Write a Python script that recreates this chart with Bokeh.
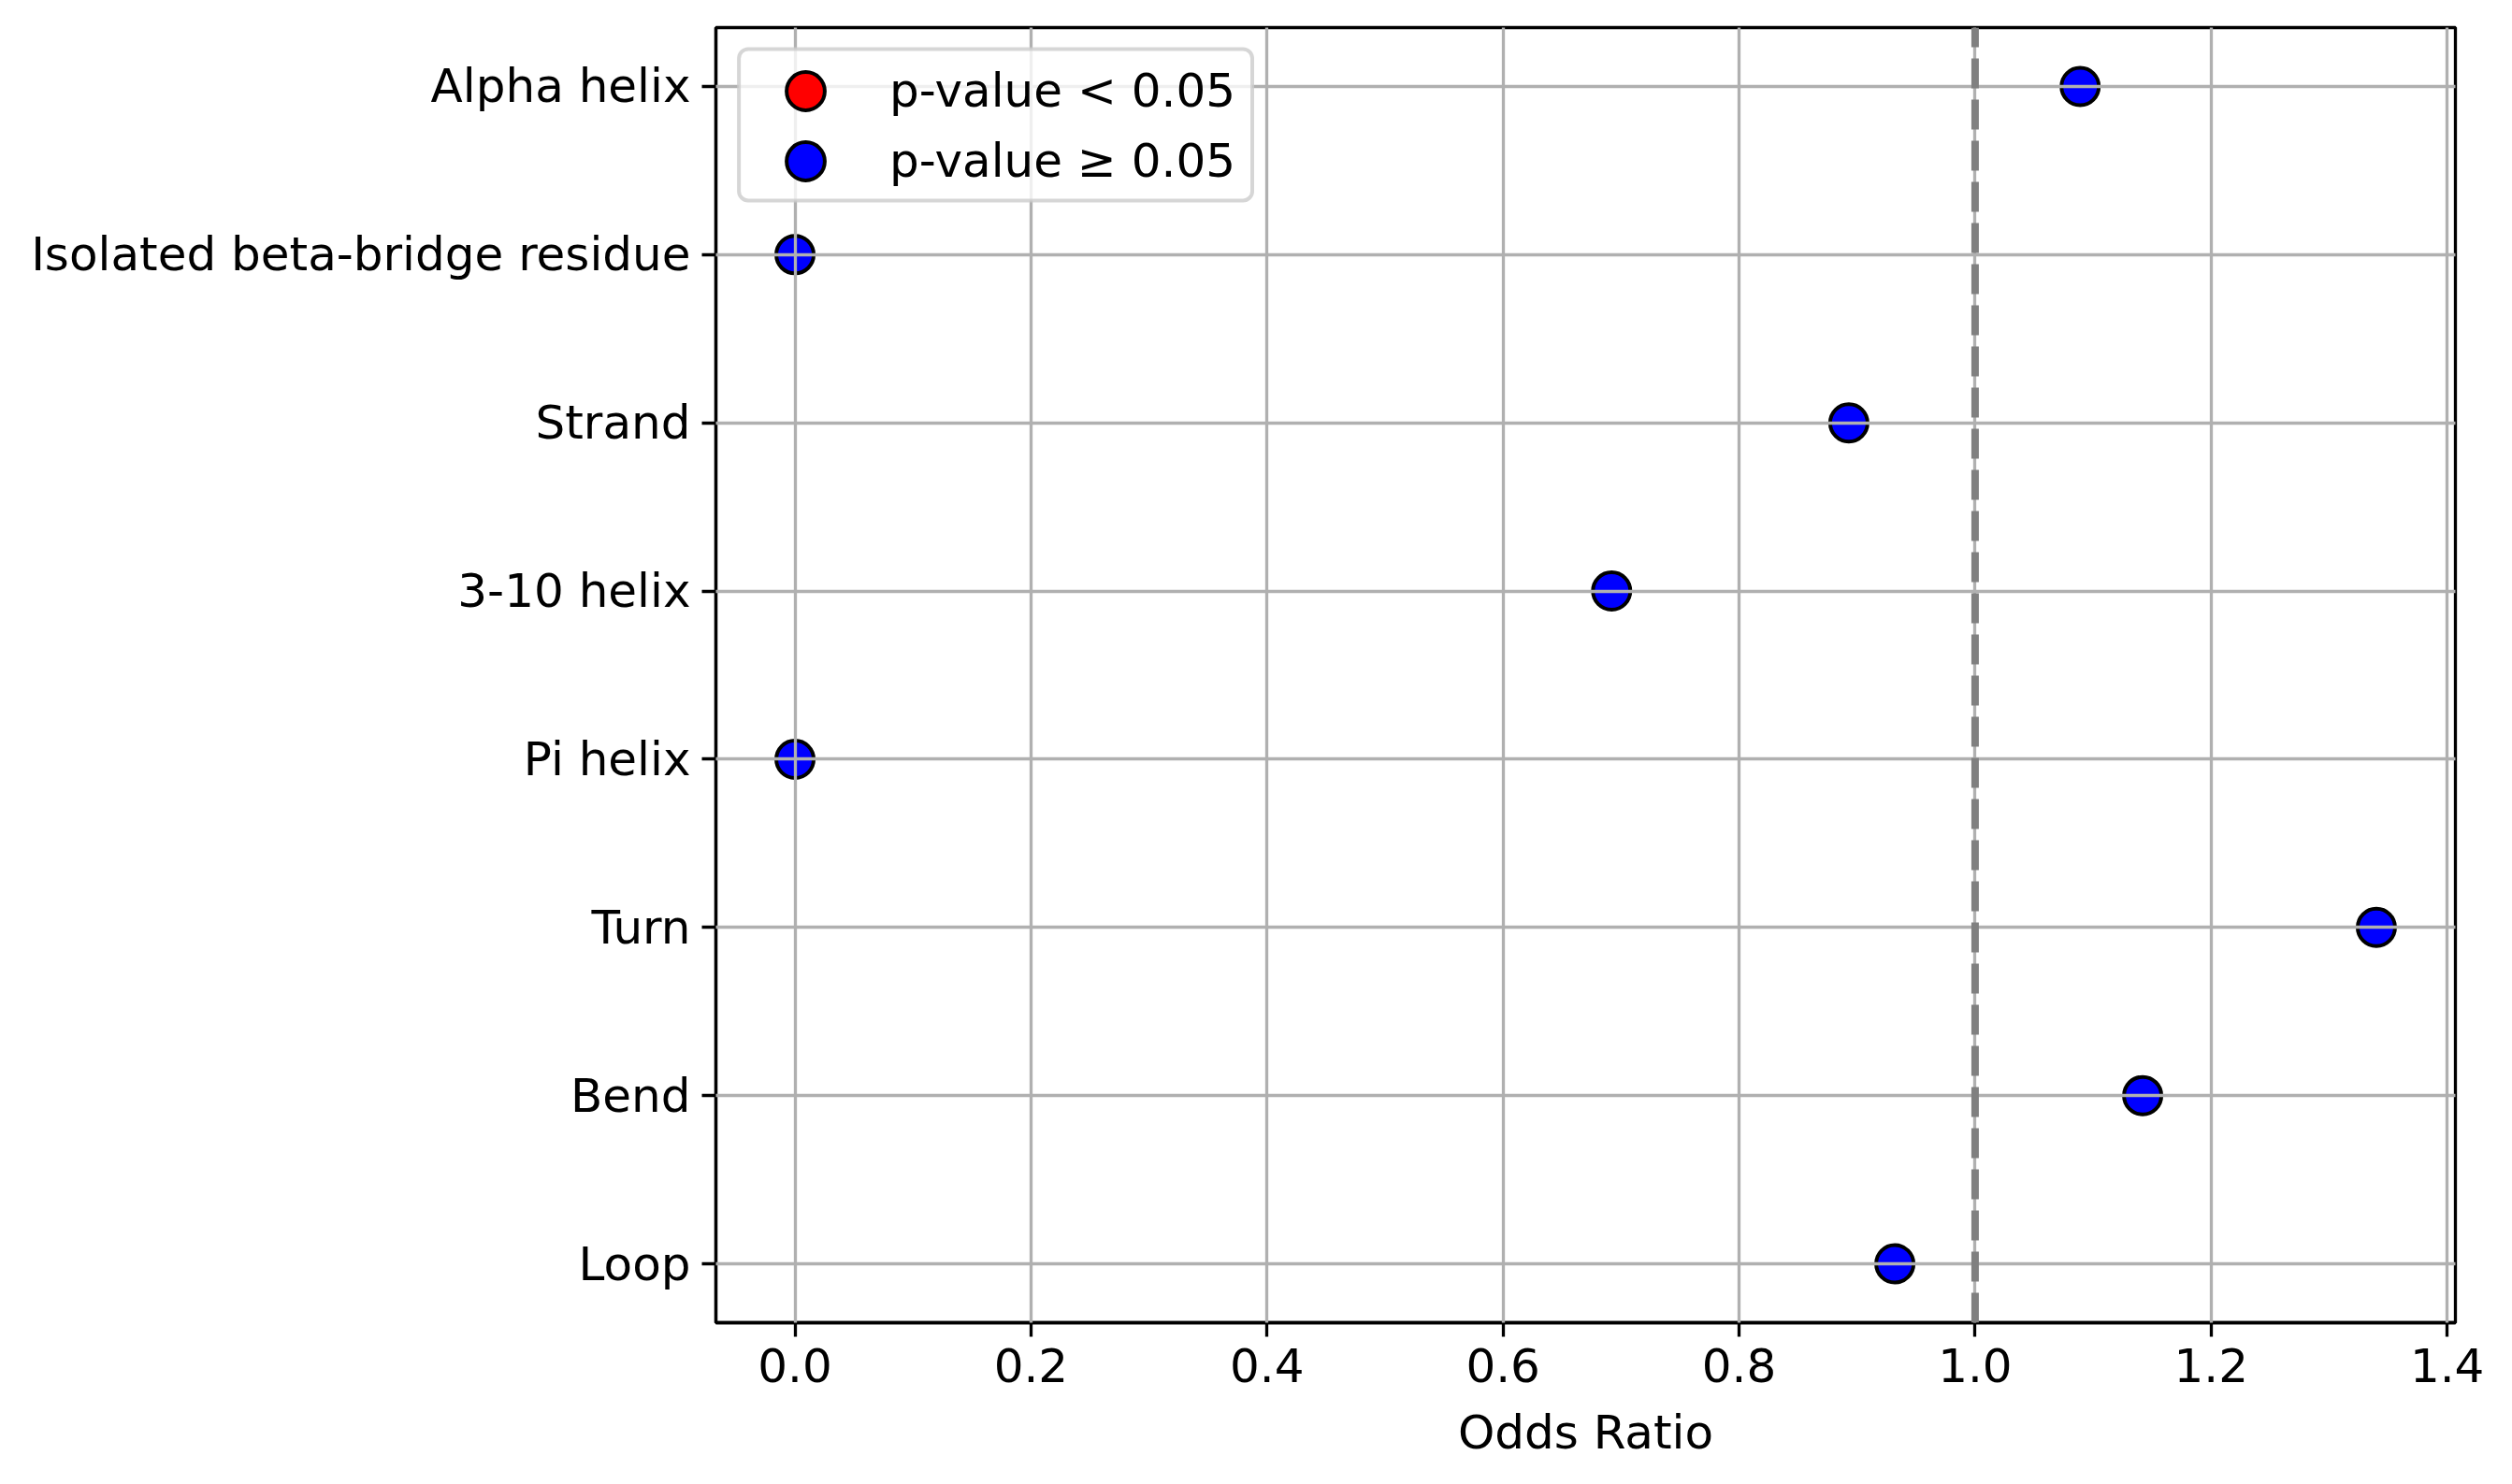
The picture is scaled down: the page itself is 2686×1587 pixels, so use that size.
from bokeh.plotting import figure
from bokeh.models import (Range1d, FixedTicker, PrintfTickFormatter, Span, BoxAnnotation,
                          Legend, LegendItem, ColumnDataSource)
from bokeh.embed import file_html
from bokeh.resources import INLINE

# ---- data ----
categories = ["Alpha helix", "Isolated beta-bridge residue", "Strand", "3-10 helix",
              "Pi helix", "Turn", "Bend", "Loop"]
odds_ratio = [1.089, 0.0, 0.893, 0.692, 0.0, 1.340, 1.142, 0.932]
significant = [False, False, False, False, False, False, False, False]
x_ticks = [0.0, 0.2, 0.4, 0.6, 0.8, 1.0, 1.2, 1.4]
reference_line = 1.0
legend_labels = ["p-value < 0.05", "p-value \u2265 0.05"]

n = len(categories)
y_pos = [n - 1 - i for i in range(n)]

NAN = float("nan")


def group(flag):
    xs = [v for v, s in zip(odds_ratio, significant) if s == flag]
    ys = [y for y, s in zip(y_pos, significant) if s == flag]
    if not xs:  # empty group: keep one undrawn placeholder so the legend swatch renders
        xs, ys = [NAN], [NAN]
    return ColumnDataSource(dict(x=xs, y=ys))


FONT = "DejaVu Sans"
FS = "50px"

p = figure(width=2670, height=1571,
           x_range=Range1d(-0.067, 1.407), y_range=Range1d(-0.35, n - 1 + 0.35),
           output_backend="svg", toolbar_location=None,
           min_border_left=765, min_border_right=45, min_border_top=29, min_border_bottom=157)
p.background_fill_color = "white"
p.border_fill_color = "white"
p.outline_line_color = "black"
p.outline_line_width = 3.3

# grid above markers, below legend
for g in (p.xgrid, p.ygrid):
    g.grid_line_color = "#b0b0b0"
    g.grid_line_width = 3.3
    g.level = "guide"

p.xaxis.ticker = FixedTicker(ticks=x_ticks)
p.xaxis.formatter = PrintfTickFormatter(format="%.1f")
p.yaxis.ticker = FixedTicker(ticks=y_pos)
p.yaxis.major_label_overrides = {y: c for y, c in zip(y_pos, categories)}
p.xaxis.axis_label = "Odds Ratio"

for ax in (p.xaxis, p.yaxis):
    ax.axis_line_color = "black"
    ax.axis_line_width = 3.3
    ax.major_tick_line_color = "black"
    ax.major_tick_line_width = 3.3
    ax.major_tick_out = 15
    ax.major_tick_in = 0
    ax.minor_tick_out = 0
    ax.minor_tick_in = 0
    ax.major_label_text_font = FONT
    ax.major_label_text_font_size = FS
    ax.major_label_text_color = "black"
    ax.axis_label_text_font = FONT
    ax.axis_label_text_font_size = FS
    ax.axis_label_text_font_style = "normal"
    ax.axis_label_text_color = "black"
p.xaxis.major_label_standoff = 12
p.xaxis.axis_label_standoff = 22
p.yaxis.major_label_standoff = 12

# reference line
span = Span(location=reference_line, dimension="height", line_color="gray",
            line_width=8, line_dash="32 12", line_dash_offset=11)
p.add_layout(span)

r_sig = p.scatter("x", "y", source=group(True), marker="circle", size=40,
                  fill_color="red", line_color="black", line_width=4)
r_nsig = p.scatter("x", "y", source=group(False), marker="circle", size=40,
                   fill_color="blue", line_color="black", line_width=4)

# legend frame
box_kw = dict(left=-0.0475, right=0.3875, top=7.2224, bottom=6.3217,
              fill_color="white", fill_alpha=0.8,
              line_color="#cccccc", line_alpha=0.8, line_width=4)
if "border_radius" in BoxAnnotation.properties():
    box_kw["border_radius"] = 10
if "editable" in BoxAnnotation.properties():
    box_kw["editable"] = False
box = BoxAnnotation(**box_kw)
p.add_layout(box)

legend_style = dict(orientation="vertical", glyph_width=102, glyph_height=102,
                    spacing=0, padding=0, margin=0, label_standoff=39,
                    label_text_font=FONT, label_text_font_size=FS,
                    label_text_color="black", background_fill_alpha=0.0,
                    border_line_alpha=0.0)
legend_sig = Legend(items=[LegendItem(label=legend_labels[0], renderers=[r_sig])],
                    location=(45, 1266), **legend_style)
legend_nsig = Legend(items=[LegendItem(label=legend_labels[1], renderers=[r_nsig])],
                     location=(45, 1191), **legend_style)
p.add_layout(legend_sig)
p.add_layout(legend_nsig)

open("out.html", "w").write(file_html(p, INLINE))
